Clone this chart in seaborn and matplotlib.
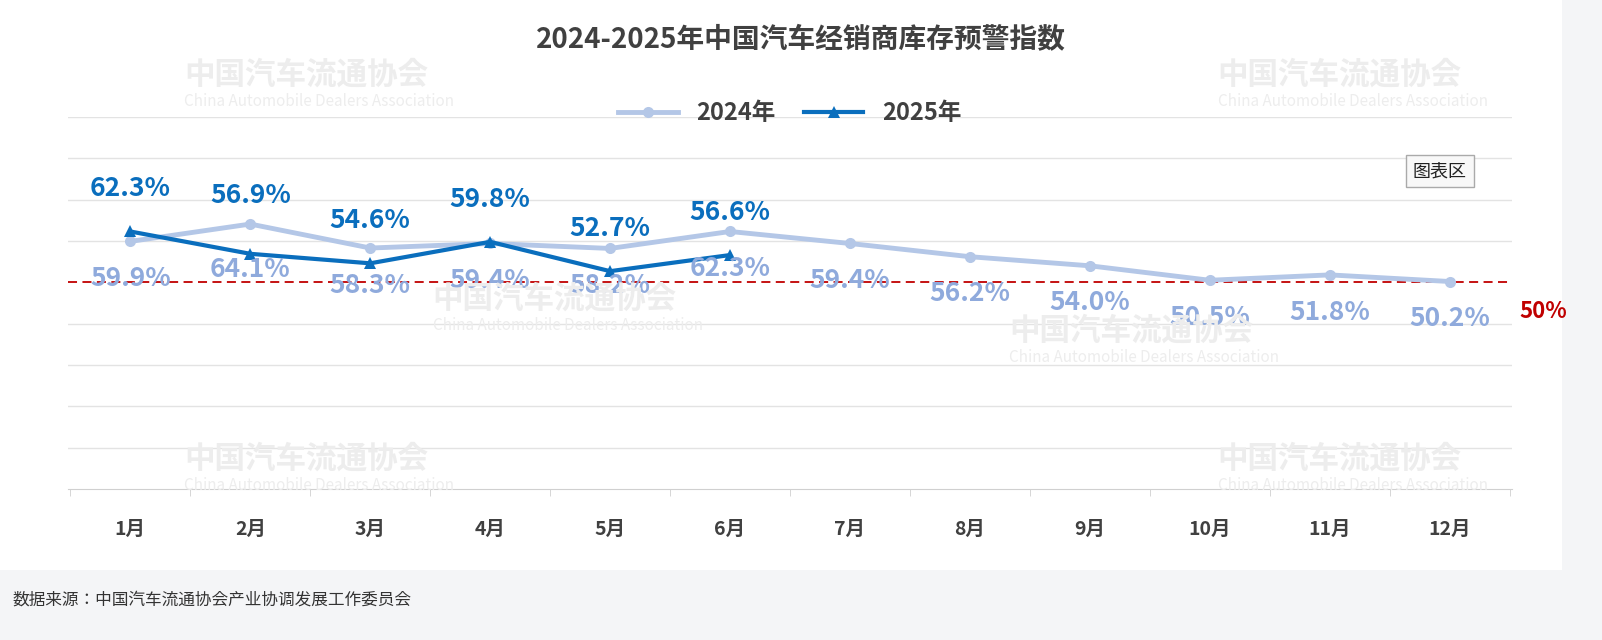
import matplotlib
matplotlib.use("Agg")
import matplotlib.pyplot as plt
from matplotlib import font_manager
import seaborn as sns
import pandas as pd

months = ["1月","2月","3月","4月","5月","6月","7月","8月","9月","10月","11月","12月"]
v2024 = [59.9,64.1,58.3,59.4,58.2,62.3,59.4,56.2,54.0,50.5,51.8,50.2]
v2025 = [62.3,56.9,54.6,59.8,52.7,56.6]

names = {f.name for f in font_manager.fontManager.ttflist}
cjk = [n for n in ["Noto Sans CJK SC", "Noto Sans CJK JP", "Noto Sans CJK TC", "Noto Sans CJK KR"] if n in names]
plt.rcParams["font.family"] = cjk + ["DejaVu Sans"]
C24 = "#B4C7E7"; C25 = "#0A6EBD"

fig = plt.figure(figsize=(16.02, 6.4), dpi=100, facecolor="#F4F5F7")
card = plt.Axes(fig, [0, 0.11, 0.975, 0.89]); fig.add_axes(card)
card.set_facecolor("white"); card.set_xticks([]); card.set_yticks([])
for s in card.spines.values(): s.set_visible(False)

for (x, y) in [(0.115, 0.87), (0.76, 0.87), (0.27, 0.52), (0.63, 0.47), (0.115, 0.27), (0.76, 0.27)]:
    fig.text(x, y, "中国汽车流通协会", color="#EDEDED", fontsize=22, fontweight="bold", zorder=0)
    fig.text(x, y - 0.035, "China Automobile Dealers Association", color="#EDEDED", fontsize=11, zorder=0)

ax = fig.add_axes([68/1602, 151/640, (1512-68)/1602, (489-117)/640])
ax.set_facecolor("none")
df24 = pd.DataFrame({"m": range(12), "v": v2024})
df25 = pd.DataFrame({"m": range(len(v2025)), "v": v2025})
sns.lineplot(data=df24, x="m", y="v", ax=ax, color=C24, lw=3.5, marker="o", markersize=8, markeredgewidth=0, label="2024年")
sns.lineplot(data=df25, x="m", y="v", ax=ax, color=C25, lw=3, marker="^", markersize=8, markeredgewidth=0, label="2025年")
ax.set_ylim(0, 90); ax.set_xlim(-0.52, 11.52)
for y in range(10, 91, 10):
    if y != 50:
        ax.axhline(y, color="#E3E3E3", lw=1, zorder=0)
ax.axhline(50, color="#C00000", lw=1.3, ls=(0, (5, 3)), zorder=1)
ax.text(1.005, 43, "50%", transform=ax.get_yaxis_transform(), color="#C00000", fontsize=16, fontweight="bold", va="center")
for i, v in enumerate(v2024):
    ax.text(i, v - (11 if i == 1 else 9), f"{v}%", color="#8FAADC", fontsize=19, fontweight="bold", ha="center", va="center")
for i, v in enumerate(v2025):
    ax.text(i, v + (14 if i == 1 else 10.3), f"{v}%", color=C25, fontsize=19, fontweight="bold", ha="center", va="center")
ax.set_xticks(range(12)); ax.set_xticklabels(months, fontsize=14, fontweight="bold", color="#404040")
ax.set_yticks([]); ax.set_xlabel(""); ax.set_ylabel("")
for s in ["top", "right", "left"]: ax.spines[s].set_visible(False)
ax.spines["bottom"].set_color("#D0D0D0")
ax.set_xticks([i - 0.5 for i in range(13)], minor=True)
ax.tick_params(axis="x", which="major", length=0, pad=22)
ax.tick_params(axis="x", which="minor", length=5, color="#D0D0D0")
leg = ax.legend(loc="upper center", bbox_to_anchor=(0.5, 1.1), ncol=2, frameon=False, fontsize=17, handlelength=2.5, columnspacing=1.2)
for t in leg.get_texts():
    t.set_fontweight("bold"); t.set_color("#404040")

fig.text(0.5, 0.925, "2024-2025年中国汽车经销商库存预警指数", ha="center", fontsize=20, fontweight="bold", color="#404040")
fig.text(0.882, 0.725, "图表区", fontsize=13, color="#222222", bbox=dict(boxstyle="square,pad=0.4", fc="#F8F8F8", ec="#AAAAAA"))
fig.text(0.008, 0.063, "数据来源：中国汽车流通协会产业协调发展工作委员会", fontsize=12, color="#333333", va="center")
fig.savefig("out.png", dpi=100, facecolor=fig.get_facecolor())
